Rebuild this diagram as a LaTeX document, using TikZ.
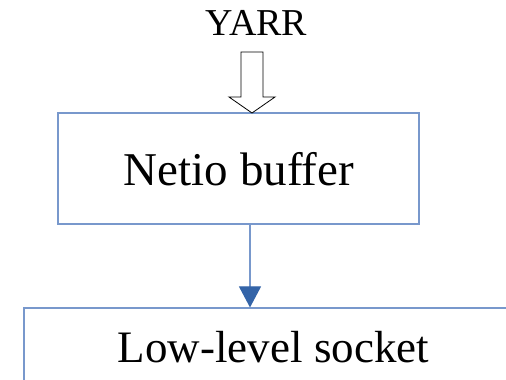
\documentclass[tikz,border=0pt]{standalone}
\usepackage{fontspec}
\setmainfont{Liberation Serif}
\usetikzlibrary{arrows.meta}
\definecolor{boxline}{RGB}{120,152,204}
\definecolor{headfill}{RGB}{52,100,168}
\begin{document}
\begin{tikzpicture}[x=1pt,y=1pt,
  block/.style={draw=boxline,line width=1.1pt,inner sep=0pt},
  flow/.style={draw=boxline,line width=1.1pt,-{Triangle[length=21pt,width=22pt,fill=headfill,color=headfill]}},
  hollow/.style={draw=black,line width=0.8pt,fill=white,line join=miter}]
\useasboundingbox (0,0) rectangle (506,380);

% title
\node (yarr) at (256.5,357) {\fontsize{38}{42}\selectfont YARR};

% middle buffer box
\node[block,minimum width=361pt,minimum height=111pt] (netio) at (238.5,211.5) {};
\node (netiotext) at (239,211) {\fontsize{47}{52}\selectfont Netio buffer};

% bottom socket box, running off the page
\node[block,minimum width=498pt,minimum height=100pt] (socket) at (273,22) {};
\node (sockettext) at (273.5,33) {\fontsize{45}{50}\selectfont Low-level socket};

% block arrow from the title into the buffer
\draw[hollow] (241,328) -- (263,328) -- (263,283) -- (275,283)
  -- (252,267) -- (229,283) -- (241,283) -- cycle;

% connector from the buffer down to the socket
\draw[flow] (netio.south -| 250,0) -- (socket.north -| 250,0);
\end{tikzpicture}
\end{document}
